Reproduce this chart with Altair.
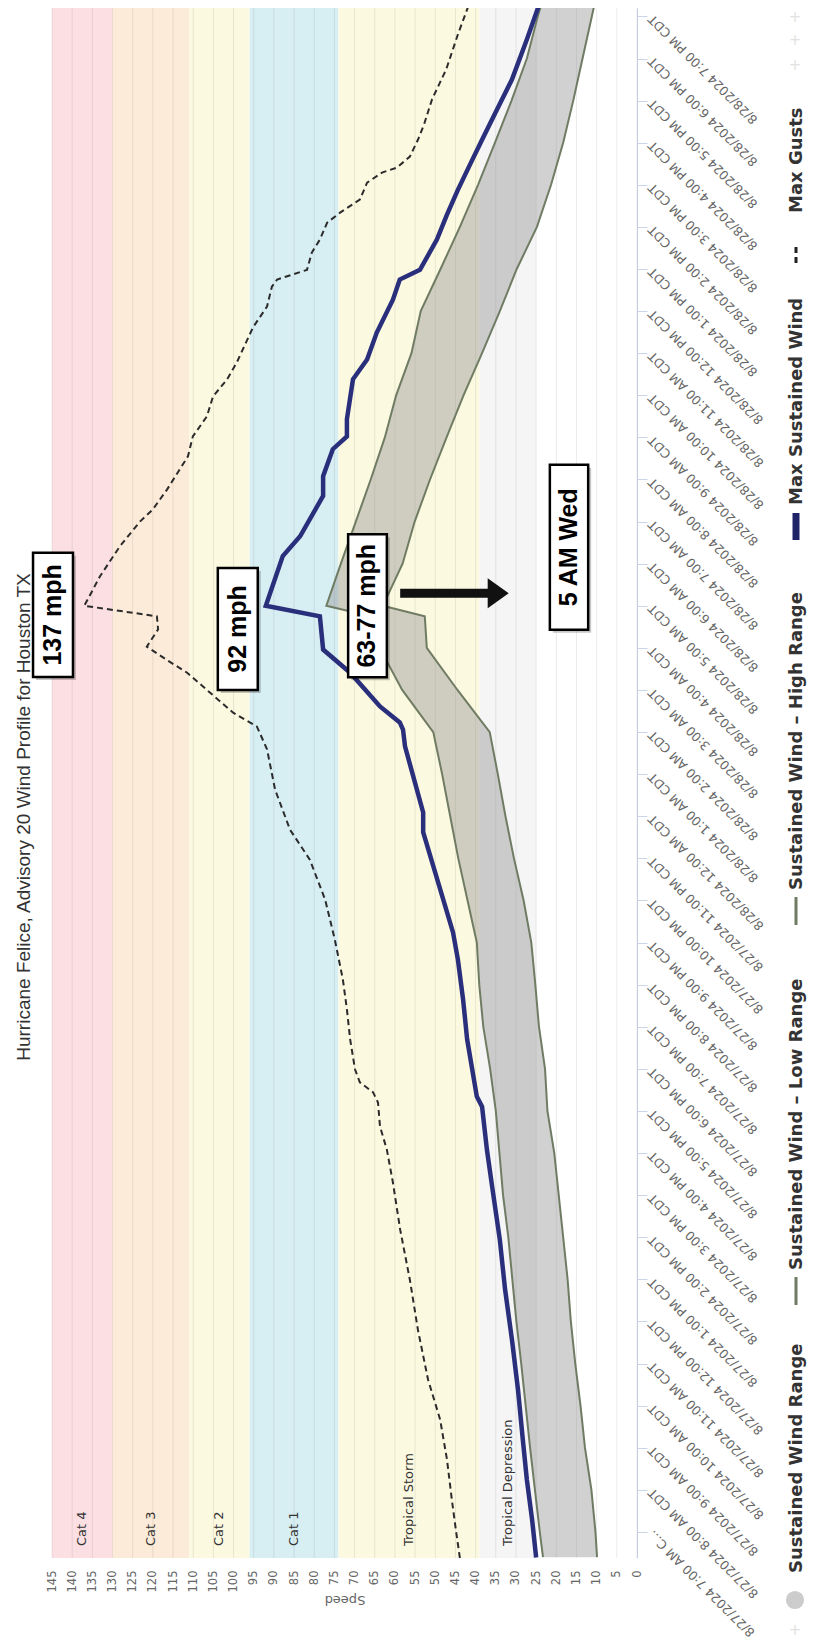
import json
import altair as alt
import pandas as pd

# ---------------- data ----------------
band_names = ["Cat 4", "Cat 3", "Cat 2", "Cat 1", "Tropical Storm", "Tropical Depression"]
band_lo = [130, 111, 96, 74, 39, 25]
band_hi = [145, 130, 111, 96, 74, 39]
band_colors = ["#fbdfe3", "#fdebd9", "#fcf9e1", "#d7eef3", "#fcf9e1", "#f5f5f5"]

speed_ticks = list(range(0, 150, 5))
hour_ticks = list(range(37))


def _lab(h):
    day = 27 + (7 + h) // 24
    hr = (7 + h) % 24
    ampm = "AM" if hr < 12 else "PM"
    h12 = hr % 12
    if h12 == 0:
        h12 = 12
    return f"8/{day}/2024 {h12}:00 {ampm} CDT"


hour_labels = [_lab(h) for h in hour_ticks]
hour_labels[0] = "8/27/2024 7:00 AM C\u2026"

# Sustained wind range (hours after 8/27 7 AM)
range_hours = [-0.6, 0, 1, 2, 3, 4, 5, 6, 7, 8, 9, 10, 11, 12, 13, 14, 15, 16, 17, 18, 19, 20, 21,
               21.75, 22, 23, 24, 25, 26, 27, 28, 29, 30, 31, 32, 33, 34, 35, 36, 36.35]
range_low = [9.9, 10.3, 11.3, 12.9, 14.0, 15.3, 16.4, 17.2, 18.3, 19.4, 20.5, 22.2, 22.8, 24.3, 25.2,
             26.2, 28.1, 30.5, 32.6, 34.5, 36.5, 44.5, 52.1, 52.6, 63, 58.1, 55.1, 51.3, 47.2, 43.0,
             38.4, 34.0, 29.8, 24.8, 21.3, 18.3, 15.8, 13.5, 11.2, 10.4]
range_high = [23.3, 24.1, 25.3, 26.5, 27.6, 28.7, 29.9, 30.9, 31.9, 33.2, 34.1, 35.0, 36.4, 38.1, 39.1,
              39.7, 42.0, 44.3, 46.3, 48.3, 50.5, 58.2, 63.8, 66, 77, 73.4, 69.7, 66.0, 62.5, 59.7,
              55.9, 53.6, 48.7, 43.9, 39.4, 35.2, 31.1, 27.3, 24.6, 23.5]

max_hours = [-0.61, 0.29, 1.24, 2.19, 3.38, 4.57, 5.76, 6.94, 8.20, 9.08, 10.10, 10.34, 11.70, 12.64,
             13.60, 14.24, 16.62, 17.09, 18.66, 19.06, 19.23, 19.61, 20.41, 20.96, 21.75, 22.0, 23.18,
             23.65, 24.61, 25.08, 25.72, 26.02, 26.43, 27.38, 27.85, 28.49, 29.27, 29.75, 29.98, 30.70,
             31.29, 31.88, 32.48, 33.07, 33.79, 34.50, 35.45, 36.35]
max_speed = [25.0, 26.0, 27.3, 28.3, 29.5, 31.0, 32.7, 34.0, 35.9, 37.2, 38.4, 39.7, 42.1, 43.1, 44.4,
             45.6, 53.0, 53.0, 57.5, 58.0, 58.8, 63.7, 71.1, 77.8, 78.6, 92.0, 87.8, 83.5, 77.8, 77.8,
             75.4, 71.9, 71.9, 70.4, 66.9, 64.5, 60.5, 58.8, 53.8, 49.6, 47.1, 44.4, 41.4, 38.4, 34.7,
             31.0, 27.3, 24.0]

gust_hours = [-0.62, 0.05, 0.77, 1.72, 2.67, 3.62, 4.80, 5.99, 7.18, 8.30, 9.08, 9.63, 10.20, 10.44,
              10.68, 10.99, 11.70, 12.41, 13.12, 14.07, 15.02, 15.97, 16.68, 17.63, 18.59, 19.13, 19.46,
              20.0, 20.41, 20.71, 21.03, 21.44, 21.75, 22.0, 22.70, 23.41, 24.0, 24.29, 24.76, 25.55,
              26.02, 26.50, 26.97, 27.38, 27.78, 28.61, 29.11, 29.58, 29.75, 29.98, 30.39, 30.70, 31.10,
              31.34, 31.65, 32.05, 32.29, 32.41, 32.67, 33.07, 33.43, 34.03, 34.74, 35.57, 36.35]
gust_speed = [43.9, 44.9, 45.9, 47.1, 48.8, 51.8, 54.3, 56.3, 58.7, 60.5, 62.0, 63.7, 64.2, 65.4, 68.7,
              69.9, 71.1, 71.9, 72.9, 74.9, 77.3, 81.1, 86.0, 89.7, 91.7, 94.2, 100.1, 106.6, 111.5,
              116.5, 121.5, 118.7, 119.0, 137.0, 133.1, 128.2, 123.2, 120.0, 116.5, 111.3, 110.1, 106.6,
              105.1, 101.6, 99.2, 95.2, 91.7, 90.5, 89.2, 81.8, 80.6, 78.6, 76.8, 73.6, 68.7, 66.9,
              63.2, 59.5, 56.3, 54.3, 52.8, 50.8, 47.3, 44.4, 41.4]

callout_text = ["137 mph", "92 mph", "63-77 mph", "5 AM Wed"]
callout_s1 = [149.7, 103.9, 71.6, 21.6]
callout_s2 = [139.8, 94.0, 62.0, 12.1]
callout_h1 = [20.31, 20.0, 20.3, 21.43]
callout_h2 = [23.26, 22.9, 23.7, 25.35]

arrow_hour = [22.3]
arrow_from = [58.7]
arrow_to = [36.8]
arrow_tip = [34.4]

legend_labels = ["Sustained Wind Range", "Sustained Wind \u2013 Low Range",
                 "Sustained Wind \u2013 High Range", "Max Sustained Wind", "Max Gusts"]
title_text = "Hurricane Felice, Advisory 20 Wind Profile for Houston TX"

# ---------------- layout ----------------
W, H = 585, 1550
OX, OY = 52, 8          # page position of plot origin


def px(x):
    return x - OX


def py(y):
    return y - OY


NAVY = "#2a2f7c"
OLIVE = "#6f7c63"

xs = alt.Scale(domain=[0, 145], reverse=True, nice=False, zero=False)
ys = alt.Scale(domain=[-0.62, 36.2], nice=False, zero=False)

x_axis = alt.Axis(values=speed_ticks, labelAngle=270, labelAlign="right", labelBaseline="middle",
                  labelPadding=12, labelColor="#666666", labelFont="DejaVu Sans", labelFontSize=11.5,
                  ticks=False, domain=False, grid=False, labelOverlap=False, labelFlush=False,
                  title="Speed", titleAngle=180, titleColor="#666666", titleFont="DejaVu Sans",
                  titleFontSize=13, titleFontWeight="normal", titlePadding=14)
y_axis = alt.Axis(orient="right", values=hour_ticks,
                  labelExpr=json.dumps(hour_labels, ensure_ascii=False) + "[datum.value]",
                  labelAngle=225, labelAlign="right", labelBaseline="middle", labelPadding=3,
                  labelFont="DejaVu Sans", labelFontSize=12.5, labelColor="#666666", labelLimit=400,
                  labelOverlap=False, labelFlush=False, tickColor="#ccd6eb", tickSize=10,
                  domainColor="#ccd6eb", grid=False, title=None)


def X(field):
    return alt.X(field, scale=xs, axis=x_axis)


def Y(field):
    return alt.Y(field, scale=ys, axis=y_axis)


bands_df = pd.DataFrame({"name": band_names, "lo": band_lo, "hi": band_hi, "color": band_colors})
bands_df["mid"] = (bands_df["lo"] + bands_df["hi"]) / 2
range_df = pd.DataFrame({"h": range_hours, "lo": range_low, "hi": range_high})
max_df = pd.DataFrame({"h": max_hours, "v": max_speed})
gust_df = pd.DataFrame({"h": gust_hours, "v": gust_speed})
call_df = pd.DataFrame({"t": callout_text, "s1": callout_s1, "s2": callout_s2,
                        "h1": callout_h1, "h2": callout_h2})
call_df["sc"] = (call_df["s1"] + call_df["s2"]) / 2
call_df["hc"] = (call_df["h1"] + call_df["h2"]) / 2
arrow_df = pd.DataFrame({"h": arrow_hour, "a": arrow_from, "b": arrow_to, "tip": arrow_tip})
grid_df = pd.DataFrame({"s": speed_ticks})

bands = alt.Chart(bands_df).mark_rect().encode(
    x=X("lo:Q"), x2="hi:Q", y=alt.value(0), y2=alt.value(H),
    color=alt.Color("color:N", scale=None, legend=None))

grid = alt.Chart(grid_df).mark_rule(color="black", opacity=0.08, strokeWidth=1).encode(
    x=X("s:Q"), y=alt.value(0), y2=alt.value(H))

band_labels = alt.Chart(bands_df).mark_text(
    angle=270, align="left", baseline="middle", font="DejaVu Sans", fontSize=13, color="#333333"
).encode(x=X("mid:Q"), y=alt.value(H - 12), text="name:N")

area = alt.Chart(range_df).mark_area(orient="horizontal", color="#8c8c8c", opacity=0.4).encode(
    y=Y("h:Q"), x=X("hi:Q"), x2="lo:Q")

low_line = alt.Chart(range_df).mark_line(color=OLIVE, strokeWidth=2).encode(
    y=Y("h:Q"), x=X("lo:Q"), order="h:Q")
high_line = alt.Chart(range_df).mark_line(color=OLIVE, strokeWidth=2).encode(
    y=Y("h:Q"), x=X("hi:Q"), order="h:Q")

gust_line = alt.Chart(gust_df).mark_line(color="#2b2b2b", strokeWidth=2, strokeDash=[6, 4]).encode(
    y=Y("h:Q"), x=X("v:Q"), order="h:Q")

max_line = alt.Chart(max_df).mark_line(color=NAVY, strokeWidth=4.5).encode(
    y=Y("h:Q"), x=X("v:Q"), order="h:Q")

shadow = alt.Chart(call_df).mark_rect(color="black", opacity=0.22, xOffset=3, x2Offset=3,
                                      yOffset=3, y2Offset=3).encode(
    x=X("s1:Q"), x2="s2:Q", y=Y("h1:Q"), y2="h2:Q")
boxes = alt.Chart(call_df).mark_rect(fill="white", stroke="black", strokeWidth=2.5).encode(
    x=X("s1:Q"), x2="s2:Q", y=Y("h1:Q"), y2="h2:Q")
call_text = alt.Chart(call_df).mark_text(
    angle=270, align="center", baseline="middle", font="Liberation Sans", fontWeight="bold",
    fontSize=25, color="black").encode(x=X("sc:Q"), y=Y("hc:Q"), text="t:N")

arrow_shaft = alt.Chart(arrow_df).mark_rule(color="#111111", strokeWidth=9).encode(
    x=X("a:Q"), x2="b:Q", y=Y("h:Q"))
arrow_head = alt.Chart(arrow_df).mark_point(
    shape="M -0.7,-1 L 0.7,0 L -0.7,1 Z", filled=True, size=900, color="#111111", opacity=1
).encode(x=X("tip:Q"), y=Y("h:Q"))

one = pd.DataFrame({"k": [0]})
title = alt.Chart(pd.DataFrame({"t": [title_text]})).mark_text(
    angle=270, align="center", baseline="middle", font="Liberation Sans", fontSize=19,
    color="#333333").encode(x=alt.value(px(24)), y=alt.value(py(817)), text="t:N")

# legend (rotated, drawn by hand)
LEG_X = 797
legend_layers = []
leg_text_y = [1573, 1270, 890, 505, 213]
for lab, yy in zip(legend_labels, leg_text_y):
    legend_layers.append(
        alt.Chart(pd.DataFrame({"t": [lab]})).mark_text(
            angle=270, align="left", baseline="middle", font="DejaVu Sans", fontWeight="bold",
            fontSize=18, color="#333333").encode(x=alt.value(px(LEG_X)), y=alt.value(py(yy)), text="t:N"))
legend_layers.append(alt.Chart(one).mark_point(shape="circle", filled=True, size=330, color="#cccccc",
                                               opacity=1).encode(x=alt.value(px(LEG_X - 2)), y=alt.value(py(1600))))
legend_layers.append(alt.Chart(one).mark_rule(color=OLIVE, strokeWidth=3).encode(
    x=alt.value(px(LEG_X - 1)), y=alt.value(py(1277)), y2=alt.value(py(1305))))
legend_layers.append(alt.Chart(one).mark_rule(color=OLIVE, strokeWidth=3).encode(
    x=alt.value(px(LEG_X - 1)), y=alt.value(py(897)), y2=alt.value(py(925))))
legend_layers.append(alt.Chart(one).mark_rule(color="#1f2468", strokeWidth=7).encode(
    x=alt.value(px(LEG_X - 1)), y=alt.value(py(513)), y2=alt.value(py(540))))
legend_layers.append(alt.Chart(one).mark_rule(color="#222222", strokeWidth=3, strokeDash=[6, 4]).encode(
    x=alt.value(px(LEG_X - 1)), y=alt.value(py(247)), y2=alt.value(py(265))))
# faint navigation crosses
for cy in [17, 40, 65, 1630]:
    legend_layers.append(alt.Chart(pd.DataFrame({"t": ["+"]})).mark_text(
        font="DejaVu Sans", fontSize=15, color="#e2e2e2", align="center", baseline="middle"
    ).encode(x=alt.value(px(LEG_X - 2)), y=alt.value(py(cy)), text="t:N"))

chart = alt.layer(
    bands, grid, band_labels, area, low_line, high_line, gust_line, max_line,
    shadow, boxes, call_text, arrow_shaft, arrow_head, title, *legend_layers
).properties(
    width=W, height=H,
    padding={"left": 44, "top": 0, "right": 172, "bottom": 82},
    autosize=alt.AutoSizeParams(type="none"),
).configure_view(stroke=None)

chart.save("out.html", embed_options={"renderer": "svg", "actions": False})
